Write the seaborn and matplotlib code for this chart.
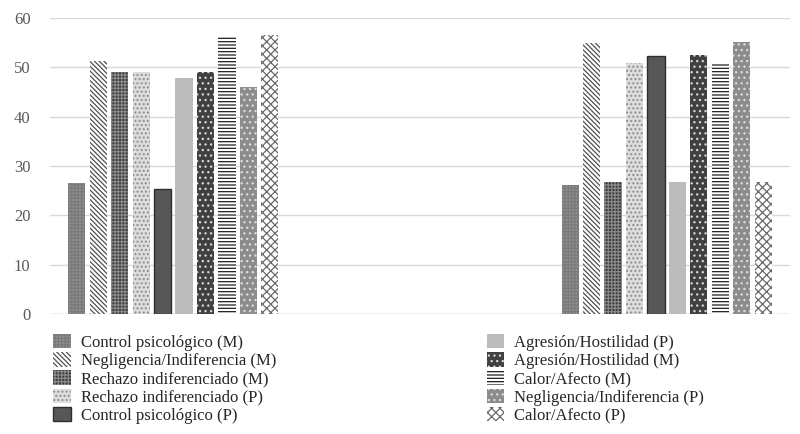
import matplotlib
matplotlib.use("Agg")
import matplotlib.pyplot as plt
from matplotlib.patches import Patch
import seaborn as sns
import pandas as pd

# ---- data ----
groups = ["Grupo 1", "Grupo 2"]
series = [
    "Control psicológico (M)",
    "Negligencia/Indiferencia (M)",
    "Rechazo indiferenciado (M)",
    "Rechazo indiferenciado (P)",
    "Control psicológico (P)",
    "Agresión/Hostilidad (P)",
    "Agresión/Hostilidad (M)",
    "Calor/Afecto (M)",
    "Negligencia/Indiferencia (P)",
    "Calor/Afecto (P)",
]
group1_values = [26.5, 51.2, 49.0, 49.0, 25.4, 47.9, 49.0, 56.4, 46.0, 56.6]
group2_values = [26.2, 55.0, 26.7, 50.8, 52.2, 26.7, 52.5, 50.8, 55.2, 26.7]
y_ticks = [0, 10, 20, 30, 40, 50, 60]

# ---- styles (face, hatch, hatch/edge colour, edge width) ----
styles = [
    ("#8e8e8e", "+++++", "#7a7a7a", 0),
    ("#ffffff", "\\\\\\\\\\\\\\", "#505050", 0),
    ("#3c3c3c", "+++++", "#8a8a8a", 0),
    ("#dcdcdc", "....", "#8a8a8a", 0),
    ("#575757", "", "#2e2e2e", 1.0),
    ("#bcbcbc", "", "#bcbcbc", 0),
    ("#404040", "...", "#d8d8d8", 0),
    ("#ffffff", "-----", "#1e1e1e", 0),
    ("#8c8c8c", "...", "#dddddd", 0),
    ("#ffffff", "xxxx", "#6a6a6a", 0),
]

rows = []
for s, v1, v2 in zip(series, group1_values, group2_values):
    rows.append({"grupo": groups[0], "serie": s, "valor": v1})
    rows.append({"grupo": groups[1], "serie": s, "valor": v2})
df = pd.DataFrame(rows)

sns.set_theme(style="white")
plt.rcParams["font.family"] = ["Liberation Serif", "DejaVu Serif"]
plt.rcParams["hatch.linewidth"] = 0.9

fig = plt.figure(figsize=(8, 4.34), dpi=100)
ax = fig.add_axes([0.0625, 0.2765, 0.925, 0.682])

order = [groups[0], "", groups[1]]
sns.barplot(data=df, x="grupo", y="valor", hue="serie", order=order,
            hue_order=series, width=0.87, gap=0.2, ax=ax, legend=False,
            errorbar=None, palette=["#888888"] * len(series), saturation=1)

for cont, (fc, h, ec, lw) in zip(ax.containers, styles):
    for p in cont:
        p.set_facecolor(fc)
        p.set_edgecolor(ec)
        p.set_hatch(h)
        p.set_linewidth(lw)

ax.set_ylim(0, 60)
ax.set_yticks(y_ticks)
ax.set_yticklabels([str(t) for t in y_ticks], color="#595959", fontsize=12)
ax.tick_params(axis="y", length=0, pad=14)
ax.set_xticks([])
ax.set_xlabel("")
ax.set_ylabel("")
ax.yaxis.grid(True, color="#d9d9d9", linewidth=1)
ax.set_axisbelow(True)
for sp in ax.spines.values():
    sp.set_visible(False)
ax.axhline(0, color="#d0d0d0", linewidth=1, zorder=0)

handles = [Patch(facecolor=fc, edgecolor=ec, hatch=h, linewidth=lw, label=s)
           for (fc, h, ec, lw), s in zip(styles, series)]

kw = dict(frameon=False, fontsize=12, handlelength=1.05, handleheight=0.95,
          labelspacing=0.08, handletextpad=0.6, borderaxespad=0)
leg1 = fig.legend(handles=handles[:5], loc="upper left",
                  bbox_to_anchor=(0.058, 0.246), **kw)
leg2 = fig.legend(handles=handles[5:], loc="upper left",
                  bbox_to_anchor=(0.600, 0.246), **kw)

fig.savefig("out.png", dpi=100)
